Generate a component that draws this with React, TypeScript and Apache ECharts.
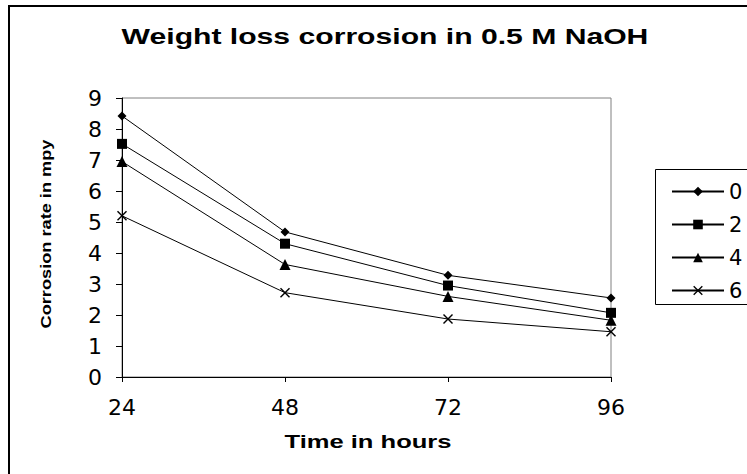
import React, { useEffect, useRef } from "react";
import * as echarts from "echarts";

const hours = [24, 48, 72, 96];
const seriesNames = ["0", "2", "4", "6"];
const s0 = [8.42, 4.68, 3.28, 2.55];
const s2 = [7.52, 4.3, 2.95, 2.07];
const s4 = [6.95, 3.63, 2.6, 1.83];
const s6 = [5.2, 2.72, 1.87, 1.46];
const yTicks = [0, 1, 2, 3, 4, 5, 6, 7, 8, 9];
const titleText = "Weight loss corrosion in 0.5 M NaOH";
const xName = "Time in hours";
const yName = "Corrosion rate in mpy";

const FONT = "'DejaVu Sans', 'Liberation Sans', Arial, sans-serif";
const ARIAL = "'Liberation Sans', Arial, sans-serif";
const CROSS =
  "path://M0,1L1,0L5,4L9,0L10,1L6,5L10,9L9,10L5,6L1,10L0,9L4,5Z";

export default function App() {
  const ref = useRef<HTMLDivElement>(null);
  useEffect(() => {
    if (!ref.current) return;
    const chart = echarts.init(ref.current, undefined, { renderer: "svg" });
    const values = [s0, s2, s4, s6];
    const symbols = ["diamond", "rect", "triangle", CROSS];
    const sizes = [9, 10, 11, 10];
    chart.setOption({
      animation: false,
      backgroundColor: "#ffffff",
      textStyle: { fontFamily: FONT },
      graphic: [
        {
          type: "rect",
          shape: { x: 9, y: 6, width: 760, height: 480 },
          style: { fill: "none", stroke: "#000", lineWidth: 2 },
          z: 100,
        },
        {
          type: "rect",
          shape: { x: 655.5, y: 169.5, width: 120, height: 135 },
          style: { fill: "#fff", stroke: "#000", lineWidth: 1 },
          z: 1,
        },
        {
          type: "text",
          x: 385,
          y: 36,
          scaleX: 1.37,
          style: {
            text: titleText,
            fontSize: 22,
            fontWeight: "bold",
            fontFamily: ARIAL,
            fill: "#000",
            align: "center",
            verticalAlign: "middle",
          },
          z: 50,
        },
        {
          type: "text",
          x: 368,
          y: 442,
          scaleX: 1.42,
          style: {
            text: xName,
            fontSize: 18,
            fontWeight: "bold",
            fontFamily: ARIAL,
            fill: "#000",
            align: "center",
            verticalAlign: "middle",
          },
          z: 50,
        },
        {
          type: "text",
          x: 46,
          y: 234,
          rotation: Math.PI / 2,
          scaleX: 1.3,
          style: {
            text: yName,
            fontSize: 14,
            fontWeight: "bold",
            fontFamily: ARIAL,
            fill: "#000",
            align: "center",
            verticalAlign: "middle",
          },
          z: 50,
        },
      ],
      legend: {
        orient: "vertical",
        left: 666,
        top: 176,
        itemWidth: 52,
        itemHeight: 12,
        itemGap: 12,
        z: 10,
        textStyle: { fontSize: 21, color: "#000", fontFamily: FONT },
        data: seriesNames,
      },
      grid: {
        left: 122,
        right: 136,
        top: 98,
        bottom: 97,
        show: true,
        borderColor: "#808080",
        borderWidth: 1,
        backgroundColor: "#fff",
      },
      xAxis: {
        type: "value",
        min: hours[0],
        max: hours[hours.length - 1],
        interval: 24,
        axisLine: { show: true, lineStyle: { color: "#000", width: 1 } },
        axisTick: { show: true, length: 5, lineStyle: { color: "#000" } },
        axisLabel: { fontSize: 22, color: "#000", margin: 19, fontFamily: FONT },
        splitLine: { show: false },
      },
      yAxis: {
        type: "value",
        min: yTicks[0],
        max: yTicks[yTicks.length - 1],
        interval: 1,
        axisLine: { show: true, lineStyle: { color: "#000", width: 1 } },
        axisTick: { show: true, length: 6, lineStyle: { color: "#000" } },
        axisLabel: { fontSize: 22, color: "#000", margin: 20, fontFamily: FONT },
        splitLine: { show: false },
      },
      series: seriesNames.map((name, i) => ({
        name,
        type: "line",
        data: hours.map((h, j) => [h, values[i][j]]),
        symbol: symbols[i],
        symbolSize: sizes[i],
        showSymbol: true,
        lineStyle: { color: "#000", width: 1 },
        itemStyle: { color: "#000" },
        z: 5,
      })),
    });
    return () => chart.dispose();
  }, []);
  return (
    <div
      ref={ref}
      style={{ position: "absolute", left: 0, top: 0, width: 747, height: 474 }}
    />
  );
}
